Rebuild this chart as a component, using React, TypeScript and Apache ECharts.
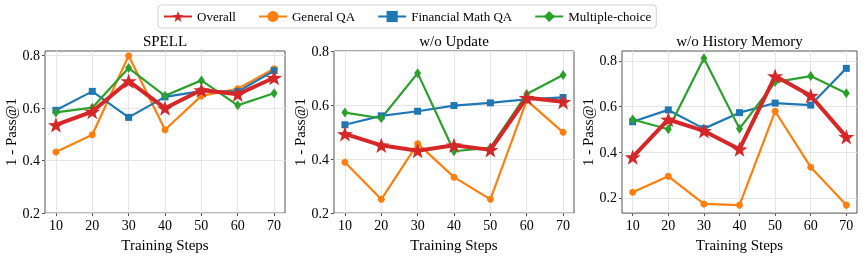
import React, { useEffect, useRef } from "react";
import * as echarts from "echarts";

const steps = [10, 20, 30, 40, 50, 60, 70];
const seriesNames = ["Overall", "General QA", "Financial Math QA", "Multiple-choice"];
const panelTitles = ["SPELL", "w/o Update", "w/o History Memory"];

// SPELL
const spellOverall = [0.536, 0.587, 0.703, 0.6, 0.669, 0.653, 0.716];
const spellGeneral = [0.433, 0.499, 0.8, 0.518, 0.647, 0.674, 0.75];
const spellFinMath = [0.592, 0.664, 0.565, 0.643, 0.665, 0.663, 0.743];
const spellMulti = [0.584, 0.602, 0.753, 0.647, 0.706, 0.611, 0.657];

// w/o Update
const noUpdOverall = [0.493, 0.451, 0.431, 0.451, 0.434, 0.627, 0.612];
const noUpdGeneral = [0.388, 0.251, 0.457, 0.333, 0.251, 0.617, 0.499];
const noUpdFinMath = [0.527, 0.56, 0.577, 0.598, 0.608, 0.621, 0.628];
const noUpdMulti = [0.572, 0.551, 0.718, 0.429, 0.442, 0.641, 0.711];

// w/o History Memory
const noMemOverall = [0.378, 0.543, 0.493, 0.413, 0.733, 0.647, 0.467];
const noMemGeneral = [0.224, 0.294, 0.173, 0.168, 0.579, 0.334, 0.168];
const noMemFinMath = [0.533, 0.585, 0.503, 0.573, 0.615, 0.606, 0.767];
const noMemMulti = [0.543, 0.5, 0.811, 0.503, 0.707, 0.733, 0.658];

const yTicks = [0.2, 0.4, 0.6, 0.8];
const yRanges = [
  [0.2, 0.818],
  [0.2, 0.8],
  [0.133, 0.843],
];
const xRange = [7, 73];

const panels = [
  [spellOverall, spellGeneral, spellFinMath, spellMulti],
  [noUpdOverall, noUpdGeneral, noUpdFinMath, noUpdMulti],
  [noMemOverall, noMemGeneral, noMemFinMath, noMemMulti],
];

const colors = ["#d62728", "#ff7f0e", "#1f77b4", "#2ca02c"];
const starPath =
  "path://M0,-10 L2.35,-3.24 L9.51,-3.09 L3.8,1.24 L5.88,8.09 L0,4 L-5.88,8.09 L-3.8,1.24 L-9.51,-3.09 L-2.35,-3.24 Z";
const symbols = [starPath, "circle", "rect", "diamond"];
const symbolSizes: any[] = [16, 7, 7, [7, 10]];
const lineWidths = [4, 2.2, 2.2, 2.2];

const FONT = '"Liberation Serif", "DejaVu Serif", serif';

const grids = [
  { left: 45, top: 51, width: 240, height: 164 },
  { left: 334, top: 51, width: 240, height: 165 },
  { left: 622, top: 51, width: 235, height: 164 },
];

export default function App() {
  const ref = useRef<HTMLDivElement>(null);
  useEffect(() => {
    if (!ref.current) return;
    const chart = echarts.init(ref.current, undefined, { renderer: "svg" });
    const series: any[] = [];
    panels.forEach((panel, pi) => {
      panel.forEach((vals, si) => {
        series.push({
          type: "line",
          name: seriesNames[si],
          xAxisIndex: pi,
          yAxisIndex: pi,
          data: steps.map((s, i) => [s, vals[i]]),
          symbol: symbols[si],
          symbolSize: symbolSizes[si],
          symbolKeepAspect: true,
          showSymbol: true,
          z: si === 0 ? 5 : 2,
          lineStyle: { color: colors[si], width: lineWidths[si] },
          itemStyle: { color: colors[si], borderWidth: 0 },
          emphasis: { disabled: true },
        });
      });
    });
    const option: any = {
      animation: false,
      color: colors,
      textStyle: { fontFamily: FONT },
      legend: {
        data: seriesNames,
        left: 158,
        top: 5,
        padding: [5, 5],
        itemWidth: 28,
        itemHeight: 14,
        itemGap: 22,
        borderColor: "#d0d0d0",
        borderWidth: 1,
        borderRadius: 3,
        textStyle: { fontFamily: FONT, fontSize: 13, color: "#000" },
      },
      title: grids.map((g, i) => ({
        text: panelTitles[i],
        left: g.left + g.width / 2,
        top: 33,
        padding: 0,
        textAlign: "center",
        textStyle: { fontFamily: FONT, fontSize: 15, fontWeight: "normal", color: "#000" },
      })),
      grid: grids.map((g) => ({
        ...g,
        show: true,
        borderColor: "#555",
        borderWidth: 1,
        containLabel: false,
      })),
      xAxis: grids.map((g, i) => ({
        type: "value",
        gridIndex: i,
        min: xRange[0],
        max: xRange[1],
        name: "Training Steps",
        nameLocation: "middle",
        nameGap: 19,
        nameTextStyle: { fontFamily: FONT, fontSize: 15, color: "#000", verticalAlign: "top" },
        axisLine: { show: false },
        axisTick: { show: true, customValues: steps, length: 3, lineStyle: { color: "#555" } },
        axisLabel: {
          customValues: steps,
          fontFamily: FONT,
          fontSize: 14,
          color: "#000",
          margin: 5,
        },
        splitLine: { show: true, lineStyle: { color: "#e6e6e6", width: 1 } },
      })),
      yAxis: grids.map((g, i) => ({
        type: "value",
        gridIndex: i,
        min: yRanges[i][0],
        max: yRanges[i][1],
        name: "1 - Pass@1",
        nameLocation: "middle",
        nameGap: 26,
        nameTextStyle: { fontFamily: FONT, fontSize: 15, color: "#000" },
        axisLine: { show: false },
        axisTick: { show: true, customValues: yTicks, length: 3, lineStyle: { color: "#555" } },
        axisLabel: {
          customValues: yTicks,
          fontFamily: FONT,
          fontSize: 14,
          color: "#000",
          margin: 5,
          formatter: (v: number) => v.toFixed(1),
        },
        splitLine: { show: true, lineStyle: { color: "#e6e6e6", width: 1 } },
      })),
      series,
    };
    chart.setOption(option);
    return () => chart.dispose();
  }, []);
  return (
    <div
      ref={ref}
      style={{ position: "fixed", left: 0, top: 0, width: 868, height: 257 }}
    />
  );
}
